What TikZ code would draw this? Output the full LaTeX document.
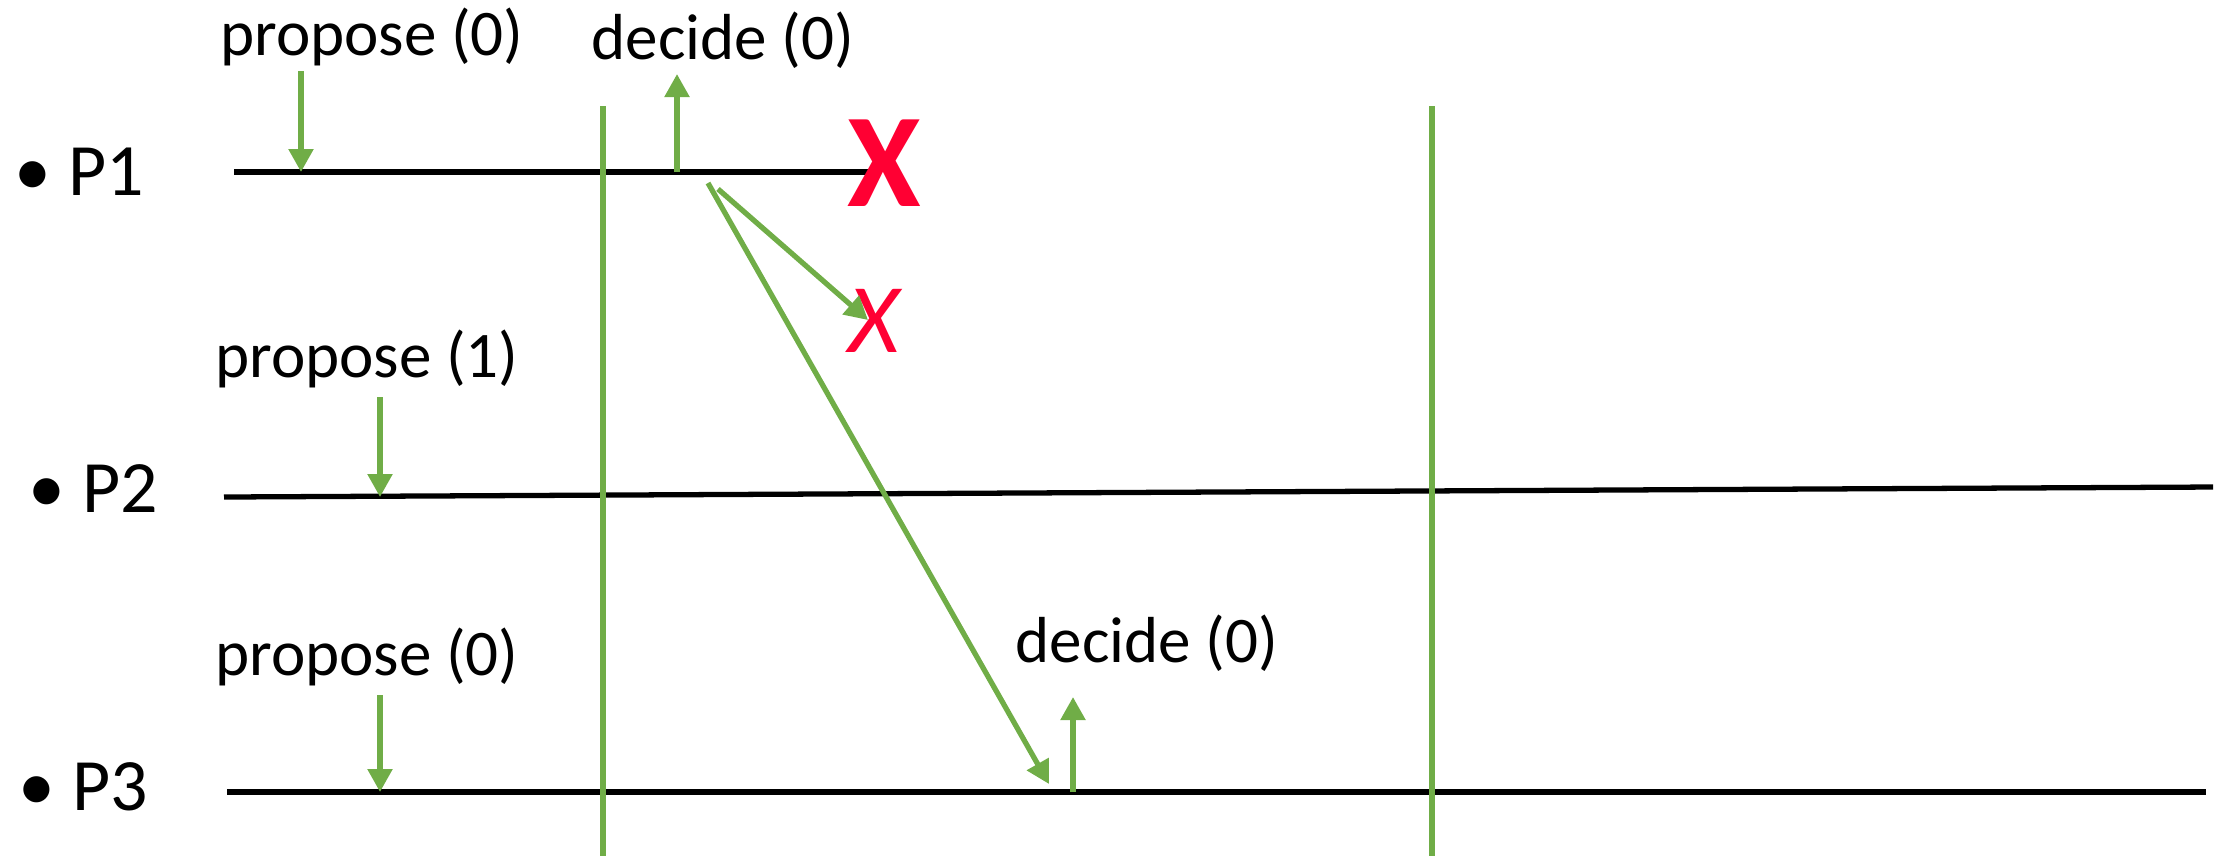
\documentclass[tikz,border=0pt]{standalone}
\usepackage{fontspec}
\setmainfont{Carlito}
\usetikzlibrary{arrows.meta,positioning,calc}
\definecolor{msggreen}{HTML}{70AD47}
\definecolor{crashred}{HTML}{FF0033}
\tikzset{
  proc/.style={line width=1.5pt, black},
  evt/.style={line width=1.5pt, msggreen, -{Triangle[width=0.24cm,length=0.23cm]}},
  roundline/.style={line width=1.5pt, msggreen},
  evtlabel/.style={font=\fontsize{18.5}{22}\selectfont, inner sep=0pt},
  plabel/.style={font=\fontsize{21}{25}\selectfont, inner sep=0pt, anchor=west},
  crash/.style={text=crashred, inner sep=0pt},
}

\begin{document}
\begin{tikzpicture}[x=0.01cm, y=-0.01cm]
\useasboundingbox (0,0) rectangle (2224,856);

% ===== process timelines =====
\coordinate (p1s) at (234,172);  \coordinate (p1e) at (880,172);
\coordinate (p2s) at (224,497);  \coordinate (p2e) at (2213,487);
\coordinate (p3s) at (227,792);  \coordinate (p3e) at (2206,792);
\draw[proc] (p1s) -- (p1e);
\draw[proc] (p2s) -- (p2e);
\draw[proc] (p3s) -- (p3e);

\node[plabel] (lp1) at (14,172) {• P1};
\node[plabel] (lp2) at (28,489) {• P2};
\node[plabel] (lp3) at (18,787) {• P3};

% ===== round boundaries =====
\coordinate (r1t) at (603,106);  \coordinate (r1b) at (603,856);
\coordinate (r2t) at (1432,106); \coordinate (r2b) at (1432,856);
\draw[roundline] (r1t) -- (r1b);
\draw[roundline] (r2t) -- (r2b);

% ===== propose / decide events =====
\node[evtlabel] (prop1) at (372,37) {propose (0)};
\node[evtlabel] (prop2) at (367,359) {propose (1)};
\node[evtlabel] (prop3) at (367,657) {propose (0)};
\node[evtlabel] (dec1) at (723,40) {decide (0)};
\node[evtlabel] (dec3) at (1147,643) {decide (0)};

\coordinate (e1) at (301,172); \draw[evt] (e1 |- 0,71) -- (e1);
\coordinate (e2) at (380,497); \draw[evt] (e2 |- 0,397) -- (e2);
\coordinate (e3) at (380,792); \draw[evt] (e3 |- 0,695) -- (e3);
\coordinate (d1) at (677,172); \draw[evt] (d1) -- (d1 |- 0,74);
\coordinate (d3) at (1073,792); \draw[evt] (d3) -- (d3 |- 0,697);

% ===== crash of P1 and its messages =====
\node[crash, font=\bfseries\fontsize{38}{40}\selectfont] (bigx) at (884,163) {X};
\node[crash, font=\itshape\fontsize{28}{30}\selectfont] (lostx) at (874,321) {X};

\coordinate (m1s) at (708,183); \coordinate (m1e) at (1049,784);
\coordinate (m2s) at (718,189); \coordinate (m2e) at (868,320);
\draw[evt] (m1s) -- (m1e);
\draw[evt] (m2s) -- (m2e);

\end{tikzpicture}
\end{document}
